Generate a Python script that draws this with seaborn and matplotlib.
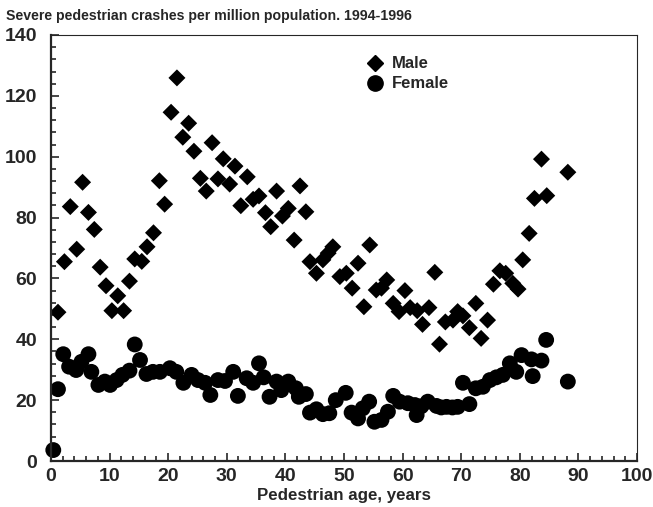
import pandas as pd
import seaborn as sns
import matplotlib.pyplot as plt
from matplotlib.ticker import MultipleLocator
from matplotlib.lines import Line2D

# values (age in years, crashes per million)
male_age = [1.2, 2.3, 3.3, 4.4, 5.4, 6.4, 7.4, 8.4, 9.4, 10.4, 11.4, 12.4, 13.4, 14.3,
            15.5, 16.4, 17.5, 18.5, 19.4, 20.5, 21.5, 22.5, 23.5, 24.4, 25.5, 26.5,
            27.5, 28.5, 29.4, 30.5, 31.4, 32.4, 33.5, 34.5, 35.5, 36.6, 37.5, 38.5,
            39.5, 40.5, 41.5, 42.5, 43.5, 44.2, 45.3, 46.4, 47.3, 48.1, 49.3, 50.4,
            51.4, 52.4, 53.4, 54.4, 55.5, 56.4, 57.3, 58.4, 59.4, 60.4, 61.3, 62.5,
            63.4, 64.5, 65.5, 66.3, 67.3, 68.6, 69.4, 70.3, 71.4, 72.5, 73.4, 74.5,
            75.5, 76.6, 77.6, 78.8, 79.7, 80.5, 81.6, 82.5, 83.7, 84.6, 88.2]
male_rate = [48.9, 65.5, 83.6, 69.6, 91.6, 81.7, 76.1, 63.7, 57.6, 49.4, 54.3, 49.4, 59.1, 66.4,
             65.6, 70.4, 75.0, 92.1, 84.4, 114.6, 125.9, 106.4, 111.0, 101.8, 92.9, 88.7,
             104.6, 92.7, 99.3, 91.0, 96.9, 83.9, 93.4, 86.0, 87.1, 81.6, 77.0, 88.7,
             80.5, 83.0, 72.6, 90.4, 81.9, 65.5, 61.7, 66.1, 68.3, 70.4, 60.6, 61.7,
             56.8, 65.0, 50.7, 71.0, 56.2, 56.8, 59.5, 51.8, 49.1, 56.0, 50.4, 49.4,
             44.9, 50.4, 62.0, 38.4, 45.7, 46.3, 49.1, 47.7, 43.8, 51.8, 40.3, 46.3,
             58.1, 62.5, 61.7, 58.4, 56.5, 66.1, 74.8, 86.3, 99.2, 87.2, 94.9]

female_age = [0.4, 1.2, 2.1, 3.1, 4.3, 5.2, 6.4, 6.9, 8.1, 9.2, 10.1, 11.2, 12.2, 13.4,
              14.3, 15.2, 16.3, 17.4, 18.6, 20.3, 21.4, 22.6, 24.0, 25.1, 26.3, 27.2,
              28.5, 29.7, 31.1, 31.9, 33.4, 34.5, 35.5, 36.3, 37.3, 38.5, 39.3, 40.5,
              41.8, 42.3, 43.5, 44.2, 45.3, 46.4, 47.5, 48.6, 50.3, 51.3, 52.4, 53.2,
              54.3, 55.2, 56.4, 57.5, 58.4, 59.5, 60.9, 62.1, 62.4, 63.2, 64.3, 65.8,
              66.6, 67.5, 68.5, 69.4, 70.3, 71.4, 72.5, 73.7, 74.9, 76.0, 77.1, 78.3,
              79.4, 80.3, 82.0, 82.2, 83.7, 84.5, 88.2]
female_rate = [3.6, 23.6, 35.1, 31.0, 29.9, 32.6, 35.1, 29.3, 25.0, 26.1, 25.0, 26.6, 28.3, 29.7,
               38.3, 33.2, 28.6, 29.3, 29.3, 30.5, 29.3, 25.7, 28.3, 26.6, 25.7, 21.7,
               26.6, 26.3, 29.3, 21.4, 27.2, 25.7, 32.1, 27.5, 21.1, 26.1, 23.3, 26.1,
               23.9, 21.1, 22.0, 15.9, 17.0, 15.4, 15.7, 20.0, 22.4, 15.9, 14.0, 17.3,
               19.5, 12.9, 13.5, 16.2, 21.4, 19.5, 19.0, 18.4, 15.1, 18.0, 19.5, 18.1,
               17.6, 17.8, 17.6, 17.8, 25.7, 18.7, 23.9, 24.4, 26.6, 27.5, 28.3, 32.1,
               29.3, 34.8, 33.4, 27.9, 33.0, 39.8, 26.1]

df = pd.concat([
    pd.DataFrame({"age": male_age, "rate": male_rate, "sex": "Male"}),
    pd.DataFrame({"age": female_age, "rate": female_rate, "sex": "Female"}),
])

sns.set_style("ticks")
plt.rcParams['font.family'] = ['Liberation Sans', 'DejaVu Sans']
plt.rcParams['font.weight'] = 'bold'

fig = plt.figure(figsize=(6.53, 5.07), dpi=100)
ax = fig.add_axes([0.078, 0.0907, 0.8975, 0.8403])

sns.scatterplot(data=df[df.sex == "Male"], x="age", y="rate", marker="D", s=75,
                color="black", edgecolor="none", ax=ax, legend=False)
sns.scatterplot(data=df[df.sex == "Female"], x="age", y="rate", marker="o", s=130,
                color="black", edgecolor="none", ax=ax, legend=False, clip_on=False)

ax.set_xlim(0, 100)
ax.set_ylim(0, 140)
ax.xaxis.set_major_locator(MultipleLocator(10))
ax.xaxis.set_minor_locator(MultipleLocator(2))
ax.yaxis.set_major_locator(MultipleLocator(20))
ax.yaxis.set_minor_locator(MultipleLocator(4))
ax.tick_params(which="both", direction="in", top=False, right=False, width=1.2)
ax.tick_params(which="major", length=6, labelsize=14)
ax.tick_params(axis="y", which="major", pad=10)
ax.tick_params(axis="x", which="major", pad=5)
ax.tick_params(which="minor", length=3.5)
for lab in ax.get_xticklabels() + ax.get_yticklabels():
    lab.set_fontweight("bold")

ax.spines["left"].set_linewidth(1.6)
ax.spines["bottom"].set_linewidth(1.6)
ax.spines["top"].set_linewidth(0.8)
ax.spines["right"].set_linewidth(0.8)

ax.set_xlabel("Pedestrian age, years", fontsize=12.2, fontweight="bold", labelpad=2)
ax.set_ylabel("")
fig.text(0.009, 0.968, "Severe pedestrian crashes per million population. 1994-1996",
         fontsize=10.2, fontweight="bold", ha="left", va="center")

handles = [Line2D([0], [0], marker="D", color="black", linestyle="None", markersize=8.5),
           Line2D([0], [0], marker="o", color="black", linestyle="None", markersize=11)]
ax.legend(handles, ["Male", "Female"], loc="upper left", bbox_to_anchor=(0.51, 0.985),
          frameon=False, prop={"weight": "bold", "size": 12}, handletextpad=0.4,
          labelspacing=0.3, handlelength=1.2)

fig.savefig("out.png", dpi=100)
